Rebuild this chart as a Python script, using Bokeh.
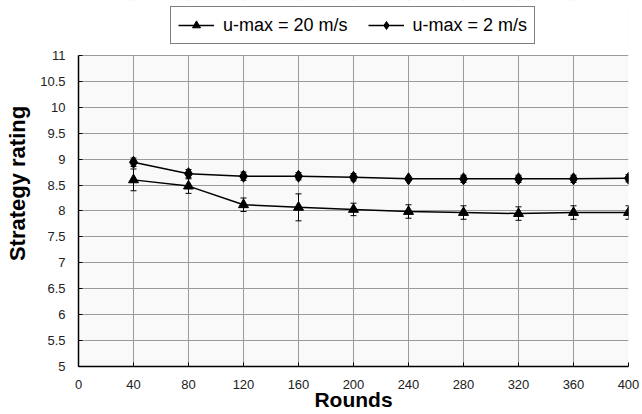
from bokeh.plotting import figure
from bokeh.models import (ColumnDataSource, Whisker, TeeHead, Legend, LegendItem,
                          FixedTicker, Range1d, BoxAnnotation)
from bokeh.embed import file_html
from bokeh.resources import INLINE

# ---- data ----
rounds = [40, 80, 120, 160, 200, 240, 280, 320, 360, 400]
umax20 = [8.60, 8.48, 8.12, 8.07, 8.03, 7.99, 7.97, 7.95, 7.97, 7.97]
umax20_err = [0.21, 0.14, 0.13, 0.26, 0.12, 0.13, 0.13, 0.13, 0.13, 0.13]
umax2 = [8.94, 8.72, 8.67, 8.67, 8.65, 8.62, 8.62, 8.62, 8.62, 8.63]
umax2_err = [0.08, 0.08, 0.08, 0.07, 0.07, 0.03, 0.07, 0.07, 0.07, 0.07]
series_labels = ["u-max = 20 m/s", "u-max = 2 m/s"]
x_ticks = [0, 40, 80, 120, 160, 200, 240, 280, 320, 360, 400]
y_ticks = [5, 5.5, 6, 6.5, 7, 7.5, 8, 8.5, 9, 9.5, 10, 10.5, 11]
y_tick_labels = ["5", "5.5", "6", "6.5", "7", "7.5", "8", "8.5", "9", "9.5", "10", "10.5", "11"]

FONT = "Liberation Sans"
Y_MIN, Y_MAX = 5, 11
# frame extends above the axis top so the legend can sit in the headroom
Y_FRAME_TOP = 12.06

p = figure(width=642, height=414, output_backend="svg", toolbar_location=None,
           x_range=Range1d(0, 400), y_range=Range1d(Y_MIN, Y_FRAME_TOP),
           min_border_left=78, min_border_right=14, min_border_top=0, min_border_bottom=48)
p.background_fill_color = "#f9f9f9"
p.border_fill_color = "white"
p.outline_line_color = None

s20 = ColumnDataSource(dict(x=rounds, y=umax20,
                            upper=[v + e for v, e in zip(umax20, umax20_err)],
                            lower=[v - e for v, e in zip(umax20, umax20_err)]))
s2 = ColumnDataSource(dict(x=rounds, y=umax2,
                           upper=[v + e for v, e in zip(umax2, umax2_err)],
                           lower=[v - e for v, e in zip(umax2, umax2_err)]))

for src in (s20, s2):
    w = Whisker(source=src, base="x", upper="upper", lower="lower",
                line_color="black", line_width=1,
                upper_head=TeeHead(size=6, line_color="black", line_width=1),
                lower_head=TeeHead(size=6, line_color="black", line_width=1))
    p.add_layout(w)

l20 = p.line("x", "y", source=s20, line_color="black", line_width=1.5)
m20 = p.scatter("x", "y", source=s20, marker="triangle", size=10,
                fill_color="black", line_color="black")
l2 = p.line("x", "y", source=s2, line_color="black", line_width=1.5)
m2 = p.scatter("x", "y", source=s2, marker="diamond", size=12,
               fill_color="black", line_color="black")

# white mask over the headroom above the top of the axis
p.add_layout(BoxAnnotation(bottom=Y_MAX + 0.01, fill_color="white", fill_alpha=1,
                           line_alpha=0, level="annotation"))

# axes
p.xaxis.ticker = FixedTicker(ticks=x_ticks)
p.yaxis.ticker = FixedTicker(ticks=y_ticks)
p.yaxis.bounds = (Y_MIN, Y_MAX)
p.yaxis.major_label_overrides = {t: l for t, l in zip(y_ticks, y_tick_labels)}
for ax in (p.xaxis, p.yaxis):
    ax.major_tick_in = 4
    ax.major_tick_out = 0
    ax.minor_tick_in = 0
    ax.minor_tick_out = 0
    ax.axis_line_color = "black"
    ax.axis_line_width = 1.5
    ax.major_tick_line_color = "black"
    ax.major_label_text_font = FONT
    ax.major_label_text_font_size = "13px"
    ax.major_label_text_color = "#222222"
    ax.axis_label_text_font = FONT
    ax.axis_label_text_font_style = "bold"
    ax.axis_label_text_color = "black"
p.xaxis.axis_label_text_font_size = "21px"
p.yaxis.axis_label_text_font_size = "22px"
p.xaxis.major_label_standoff = 13
p.yaxis.major_label_standoff = 13
p.xaxis.axis_label = "Rounds"
p.yaxis.axis_label = "Strategy rating"
p.xaxis.axis_label_standoff = -4
p.yaxis.axis_label_standoff = 7

p.xgrid.ticker = FixedTicker(ticks=x_ticks)
p.ygrid.ticker = FixedTicker(ticks=y_ticks)
for g in (p.xgrid, p.ygrid):
    g.grid_line_color = "#9a9a9a"
    g.grid_line_width = 1

legend = Legend(items=[LegendItem(label=series_labels[0], renderers=[l20, m20]),
                       LegendItem(label=series_labels[1], renderers=[l2, m2])],
                orientation="horizontal", location=(92, 322))
legend.label_text_font = FONT
legend.label_text_font_size = "18px"
legend.label_text_color = "black"
legend.glyph_width = 36
legend.glyph_height = 20
legend.label_height = 22
legend.label_standoff = 9
legend.spacing = 20
legend.padding = 7
legend.margin = 0
legend.border_line_color = "black"
legend.border_line_width = 1
legend.background_fill_color = "white"
legend.background_fill_alpha = 1
p.add_layout(legend, "center")

open("out.html", "w").write(file_html(p, INLINE))
